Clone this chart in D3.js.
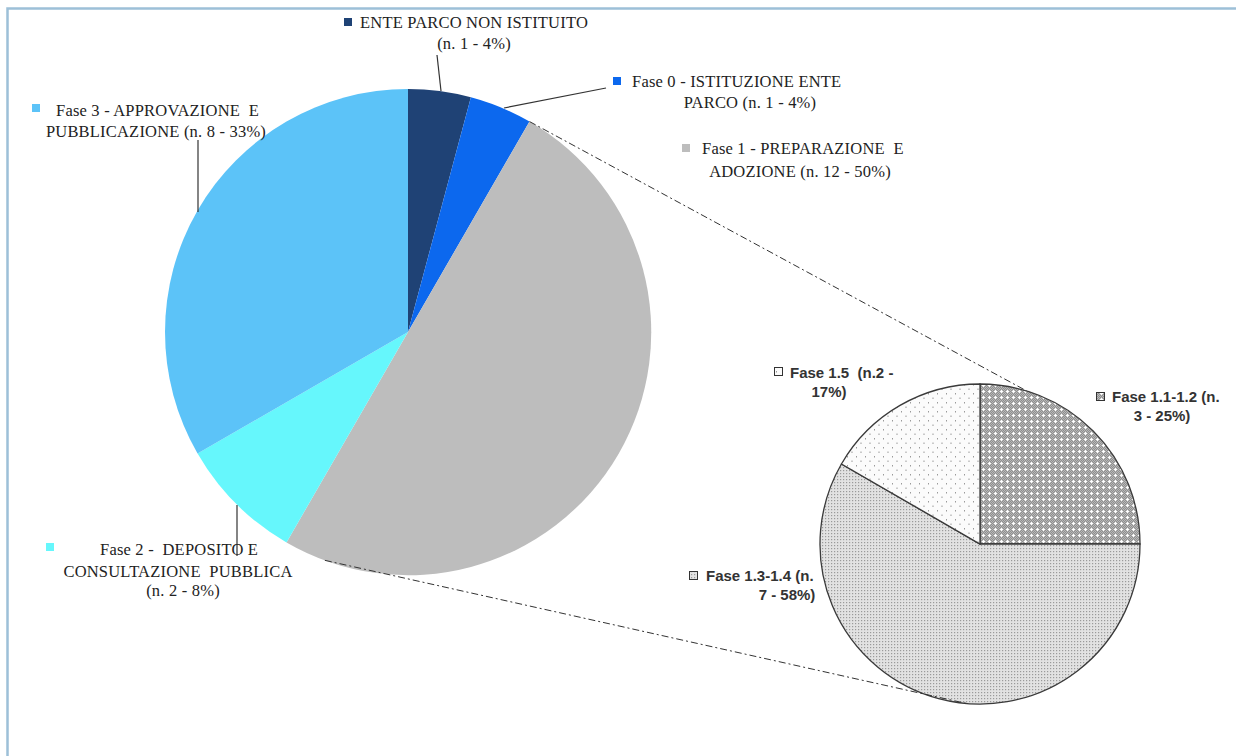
<!DOCTYPE html>
<html lang="it">
<head>
<meta charset="UTF-8">
<title>Stato piani parco</title>
<script src="https://d3js.org/d3.v7.min.js"></script>
<style>
  body { margin: 0; background: #fff; overflow: hidden; }
  svg { display: block; }
  .lbl { font-family: "Liberation Serif", "Times New Roman", serif; font-size: 16.5px; letter-spacing: 0.2px; fill: #222; }
  .sub { font-family: "Liberation Sans", Arial, sans-serif; font-size: 15px; font-weight: bold; fill: #333; }
</style>
</head>
<body>
<svg id="chart" width="1236" height="756"></svg>
<script>
// main pie
var mainCats = ["ENTE PARCO NON ISTITUITO", "Fase 0 - ISTITUZIONE ENTE PARCO", "Fase 1 - PREPARAZIONE E ADOZIONE",
                "Fase 2 - DEPOSITO E CONSULTAZIONE PUBBLICA", "Fase 3 - APPROVAZIONE E PUBBLICAZIONE"];
var mainValues = [1, 1, 12, 2, 8];
var mainPct = [4, 4, 50, 8, 33];
var mainColors = ["#1f4275", "#0c68ee", "#bdbdbd", "#66f7fc", "#5cc3f8"];

// secondary pie (breakdown of Fase 1)
var subCats = ["Fase 1.1-1.2", "Fase 1.3-1.4", "Fase 1.5"];
var subValues = [3, 7, 2];
var subPct = [25, 58, 17];

var svg = d3.select("#chart");

// frame: only top and left edges are in view
svg.append("path").attr("d", "M7.5,756V8.5H1236")
  .attr("fill", "none").attr("stroke", "#9dc0d8").attr("stroke-width", 2.5);

// patterns for the secondary pie
var defs = svg.append("defs");
var p1 = defs.append("pattern").attr("id", "pat1").attr("patternUnits", "userSpaceOnUse")
  .attr("width", 6).attr("height", 6);
p1.append("rect").attr("width", 6).attr("height", 6).attr("fill", "#8f8f8f");
[[0,0],[2,0],[4,0],[1,1],[3,1],[5,1],[0,2],[2,2],[4,2],[1,3],[3,3],[5,3],[0,4],[2,4],[4,4],[1,5],[3,5],[5,5]]
  .forEach(function(d) {
    p1.append("rect").attr("x", d[0]).attr("y", d[1]).attr("width", 1).attr("height", 1).attr("fill", "#b8b8b8");
  });
p1.append("rect").attr("x", 2).attr("y", 3).attr("width", 3).attr("height", 1).attr("fill", "#fff");
p1.append("rect").attr("x", 3).attr("y", 2).attr("width", 1).attr("height", 3).attr("fill", "#fff");

var p2 = defs.append("pattern").attr("id", "pat2").attr("patternUnits", "userSpaceOnUse")
  .attr("width", 3).attr("height", 3);
p2.append("rect").attr("width", 3).attr("height", 3).attr("fill", "#e2e2e2");
p2.append("rect").attr("x", 1).attr("y", 1).attr("width", 1.2).attr("height", 1.2).attr("fill", "#9a9a9a");

var p3 = defs.append("pattern").attr("id", "pat3").attr("patternUnits", "userSpaceOnUse")
  .attr("width", 9).attr("height", 9);
p3.append("rect").attr("width", 9).attr("height", 9).attr("fill", "#fbfbfb");
p3.append("rect").attr("x", 2).attr("y", 2).attr("width", 1).attr("height", 1.5).attr("fill", "#9a9a9a");
p3.append("rect").attr("x", 6.5).attr("y", 6.5).attr("width", 1).attr("height", 1.5).attr("fill", "#9a9a9a");
var subFills = ["url(#pat1)", "url(#pat2)", "url(#pat3)"];

var pie = d3.pie().sort(null).value(function(d) { return d; });

// main pie
var cx = 408, cy = 332, R = 243;
var arc = d3.arc().innerRadius(0).outerRadius(R);
var mainArcs = pie(mainValues);
var gMain = svg.append("g").attr("transform", "translate(" + cx + "," + cy + ")");
gMain.selectAll("path").data(mainArcs).enter().append("path")
  .attr("d", arc)
  .attr("fill", function(d, i) { return mainColors[i]; });

// secondary pie
var sx = 980, sy = 544, r = 160;
var subArc = d3.arc().innerRadius(0).outerRadius(r);
var subArcs = pie(subValues);
var gSub = svg.append("g").attr("transform", "translate(" + sx + "," + sy + ")");
gSub.selectAll("path").data(subArcs).enter().append("path")
  .attr("d", subArc)
  .attr("fill", function(d, i) { return subFills[i]; })
  .attr("stroke", "#3a3a3a").attr("stroke-width", 1.3);

// connector lines (dash-dot)
function pt(x0, y0, rad, a) { return [x0 + rad * Math.sin(a), y0 - rad * Math.cos(a)]; }
var f1 = mainArcs[2];
var deg = Math.PI / 180;
var conn = [
  [pt(cx, cy, R, f1.startAngle), pt(sx, sy, r, 17 * deg)],
  [pt(cx, cy, R, 200 * deg), pt(sx, sy, r, 185 * deg)]
];
svg.selectAll("line.conn").data(conn).enter().append("line")
  .attr("class", "conn")
  .attr("x1", function(d) { return d[0][0]; }).attr("y1", function(d) { return d[0][1]; })
  .attr("x2", function(d) { return d[1][0]; }).attr("y2", function(d) { return d[1][1]; })
  .attr("stroke", "#333").attr("stroke-width", 1)
  .attr("stroke-dasharray", "7,3,2,3");

// leader lines for main labels
var leaders = [
  [[437, 55], [441, 91]],
  [[504, 108], [606, 88]],
  [[198, 140], [198, 212]],
  [[237, 505], [237, 556]]
];
svg.selectAll("path.lead").data(leaders).enter().append("path")
  .attr("class", "lead")
  .attr("d", d3.line())
  .attr("fill", "none").attr("stroke", "#333").attr("stroke-width", 1.2);

// main labels
var mainLabels = [
  { m: [344, 18], lines: [["ENTE PARCO NON ISTITUITO", 360, 28, "start"], ["(n. 1 - " + mainPct[0] + "%)", 474, 49, "middle"]] },
  { m: [613, 77], lines: [["Fase 0 - ISTITUZIONE ENTE", 632, 87, "start"], ["PARCO (n. 1 - " + mainPct[1] + "%)", 750, 108, "middle"]] },
  { m: [682, 144], lines: [["Fase 1 - PREPARAZIONE  E", 702, 154, "start"], ["ADOZIONE (n. 12 - " + mainPct[2] + "%)", 800, 177, "middle"]] },
  { m: [46, 543], lines: [["Fase 2 -  DEPOSITO E", 100, 555, "start"], ["CONSULTAZIONE  PUBBLICA", 178, 577, "middle"], ["(n. 2 - " + mainPct[3] + "%)", 183, 596, "middle"]] },
  { m: [32, 104], lines: [["Fase 3 - APPROVAZIONE  E", 56, 116, "start"], ["PUBBLICAZIONE (n. 8 - " + mainPct[4] + "%)", 156, 137, "middle"]] }
];
mainLabels.forEach(function(L, i) {
  svg.append("rect").attr("x", L.m[0]).attr("y", L.m[1]).attr("width", 8).attr("height", 8)
    .attr("fill", mainColors[i]);
  L.lines.forEach(function(t) {
    svg.append("text").attr("class", "lbl").attr("x", t[1]).attr("y", t[2])
      .attr("text-anchor", t[3]).style("white-space", "pre").text(t[0]);
  });
});

// secondary labels
var subLabels = [
  { m: [1096, 392], lines: [[subCats[0] + " (n.", 1112, 402, "start"], ["3 - " + subPct[0] + "%)", 1162, 421, "middle"]] },
  { m: [689, 571], lines: [[subCats[1] + " (n.", 706, 581, "start"], ["7 - " + subPct[1] + "%)", 787, 600, "middle"]] },
  { m: [774, 367], lines: [[subCats[2] + "  (n.2 -", 790, 378, "start"], ["17%)", 829, 397, "middle"]] }
];
subLabels.forEach(function(L, i) {
  svg.append("rect").attr("x", L.m[0] + 0.5).attr("y", L.m[1] + 0.5).attr("width", 8).attr("height", 8)
    .attr("fill", subFills[i]).attr("stroke", "#333").attr("stroke-width", 1);
  L.lines.forEach(function(t) {
    svg.append("text").attr("class", "sub").attr("x", t[1]).attr("y", t[2])
      .attr("text-anchor", t[3]).style("white-space", "pre").text(t[0]);
  });
});
</script>
</body>
</html>
